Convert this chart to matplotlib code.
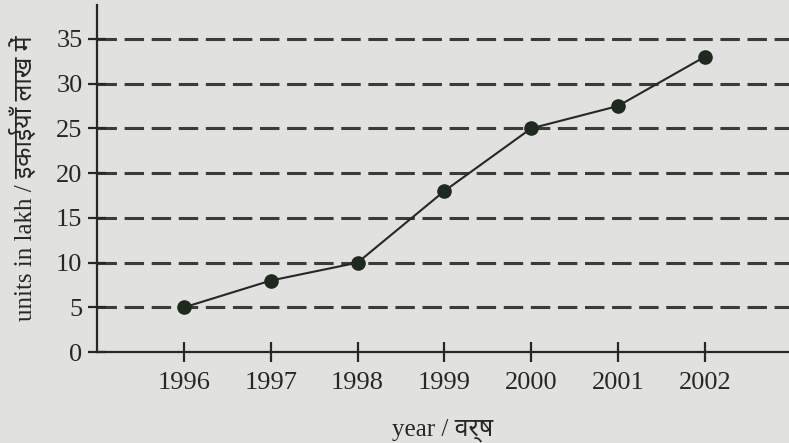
import matplotlib.pyplot as plt

years = [1996, 1997, 1998, 1999, 2000, 2001, 2002]
units = [5, 8, 10, 18, 25, 27.5, 33]
y_ticks = [0, 5, 10, 15, 20, 25, 30, 35]

bg = '#e1e2e0'
ink = '#262826'

plt.rcParams['font.family'] = ['Liberation Serif', 'Noto Sans', 'DejaVu Sans']
plt.rcParams['lines.scale_dashes'] = False

fig = plt.figure(figsize=(7.89, 4.43), dpi=100, facecolor=bg)
ax = fig.add_axes([0.123, 0.205, 0.877, 0.784], facecolor=bg)

for y in y_ticks[1:]:
    ax.axhline(y, color='#3a3c3a', lw=2.2, dashes=(14, 5.5), zorder=1)

ax.plot(years, units, color=ink, lw=1.5, marker='o', markersize=9.5,
        markerfacecolor='#1f2a1f', markeredgecolor='#1f2a1f', zorder=3)

ax.set_xlim(1995.0, 2002.97)
ax.set_ylim(0, 38.8)
ax.set_xticks(years)
ax.set_yticks(y_ticks)

for side in ['top', 'right']:
    ax.spines[side].set_visible(False)
for side in ['left', 'bottom']:
    ax.spines[side].set_color(ink)
    ax.spines[side].set_linewidth(1.6)

ax.tick_params(axis='both', direction='inout', colors=ink, labelsize=19, width=1.6)
ax.tick_params(axis='y', length=13, pad=4)
ax.tick_params(axis='x', length=14, pad=7)

ax.set_xlabel('year / वर्ष', fontsize=18, color=ink, labelpad=18)
ax.set_ylabel('units in lakh / इकाईयाँ लाख में', fontsize=18, color=ink, labelpad=14)

plt.savefig('out.png', dpi=100, facecolor=bg)
